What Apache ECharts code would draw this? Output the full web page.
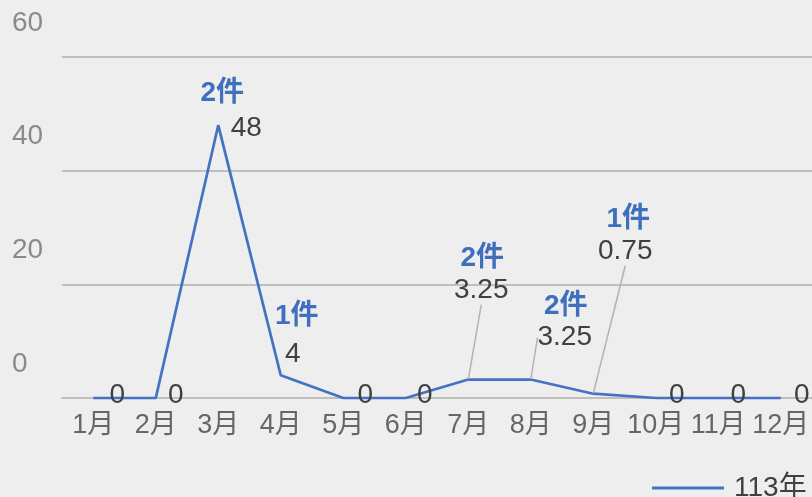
<!DOCTYPE html>
<html>
<head>
<meta charset="utf-8">
<script src="https://cdn.jsdelivr.net/npm/echarts@6/dist/echarts.min.js"></script>
<style>
  html, body { margin: 0; padding: 0; background: #eeeeee; }
  #chart { width: 812px; height: 497px; }
</style>
</head>
<body>
<div id="chart"></div>
<script>
// Monthly totals for 113年 and the number of cases behind each non-zero month
const months = ['1月', '2月', '3月', '4月', '5月', '6月', '7月', '8月', '9月', '10月', '11月', '12月'];
const values113 = [0, 0, 48, 4, 0, 0, 3.25, 3.25, 0.75, 0, 0, 0];
const caseCounts = [null, null, 2, 1, null, null, 2, 2, 1, null, null, null];
const yTicks = [0, 20, 40, 60];
const seriesName = '113年';

// Label placement (pixel offsets from each point)
const valueOffsets = [[24, -3], [20, -3], [28, 3], [12, -21], [22, -3], [19, -3],
                      [13, -89], [34, -42], [32, -142], [21, -3], [20, -3], [21, -3]];
const countOffsets = [null, null, [4, -32], [16, -59], null, null,
                      [14, -121], [35, -73], [35, -174], null, null, null];
const withLeader = [6, 7, 8];

const FONT = '"Liberation Sans", Arial, "Noto Sans CJK TC", sans-serif';
const BLUE = '#4472C4';

const chart = echarts.init(document.getElementById('chart'), null, { renderer: 'canvas' });

const valuePoints = values113.map((v, i) => ({
  value: v,
  labelLine: { show: withLeader.includes(i) }
}));
const countPoints = caseCounts.map((c, i) => c == null ? null : values113[i]);

chart.setOption({
  backgroundColor: '#eeeeee',
  animation: false,
  textStyle: { fontFamily: FONT },
  grid: { left: 62, right: 0, top: 57, bottom: 99, containLabel: false, outerBoundsMode: 'none' },
  legend: {
    data: [seriesName],
    left: 647,
    top: 469,
    icon: 'rect',
    itemWidth: 72,
    itemHeight: 3,
    textStyle: { fontSize: 28, color: '#404040', fontFamily: FONT, padding: [0, 0, 0, 5] }
  },
  xAxis: {
    type: 'category',
    data: months,
    boundaryGap: true,
    axisLine: { show: true, lineStyle: { color: '#bfbfbf', width: 2 } },
    axisTick: { show: false },
    axisLabel: { fontSize: 27, color: '#666666', margin: 14, fontFamily: FONT, interval: 0 },
    splitLine: { show: false }
  },
  yAxis: {
    type: 'value',
    min: yTicks[0],
    max: yTicks[yTicks.length - 1],
    interval: yTicks[1] - yTicks[0],
    axisLine: { show: false },
    axisTick: { show: false },
    axisLabel: {
      fontSize: 28, color: '#8a8a8a', fontFamily: FONT,
      align: 'left', margin: 50, verticalAlign: 'bottom', lineHeight: 68
    },
    splitLine: { show: true, lineStyle: { color: '#bfbfbf', width: 2 } }
  },
  series: [
    {
      name: seriesName,
      type: 'line',
      data: values113,
      symbol: 'none',
      lineStyle: { color: BLUE, width: 2.75 },
      itemStyle: { color: BLUE },
      z: 2
    },
    {
      name: 'values',
      type: 'scatter',
      data: valuePoints,
      symbolSize: 1,
      itemStyle: { color: 'rgba(0,0,0,0)', opacity: 1 },
      label: {
        show: true,
        position: 'inside',
        formatter: p => String(p.value),
        fontSize: 28,
        color: '#404040',
        fontFamily: FONT
      },
      labelLine: { lineStyle: { color: '#b3b3b3', width: 1.5 } },
      labelLayout: p => ({ dx: valueOffsets[p.dataIndex][0], dy: valueOffsets[p.dataIndex][1] }),
      z: 3
    },
    {
      name: 'counts',
      type: 'scatter',
      data: countPoints,
      symbolSize: 1,
      itemStyle: { color: 'rgba(0,0,0,0)', opacity: 1 },
      label: {
        show: true,
        position: 'inside',
        formatter: p => caseCounts[p.dataIndex] + '件',
        fontSize: 28,
        fontWeight: 'bold',
        color: '#3f6fbd',
        fontFamily: FONT
      },
      labelLayout: p => {
        const o = countOffsets[p.dataIndex] || [0, 0];
        return { dx: o[0], dy: o[1] };
      },
      z: 3
    }
  ]
});
</script>
</body>
</html>
